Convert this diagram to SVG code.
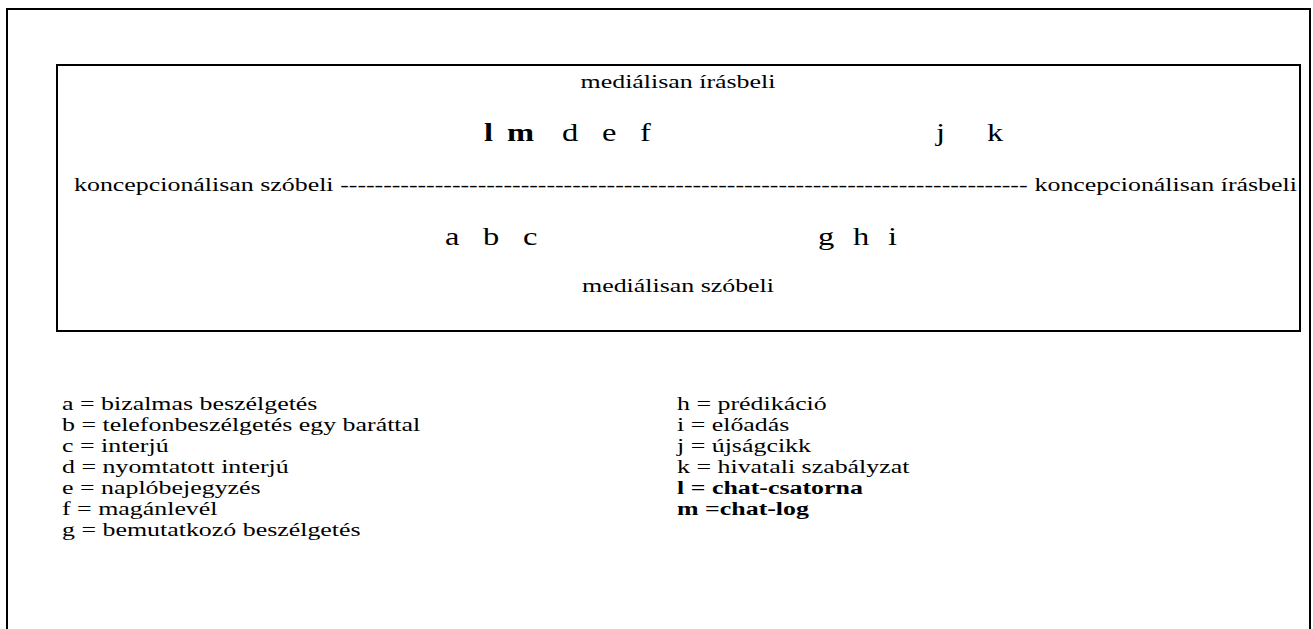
<svg xmlns="http://www.w3.org/2000/svg" width="1313" height="629" viewBox="0 0 1313 629">
  <style>
    text { font-family: "Liberation Serif", "Times New Roman", serif; fill: #000; }
    .lbl { font-size: 18.5px; }
    .ltr { font-size: 26px; }
    .leg { font-size: 18.5px; }
    .b { font-weight: bold; }
    .frame { fill: none; stroke: #000; stroke-width: 2; }
  </style>
  <rect width="1313" height="629" fill="#fff"/>

  <!-- outer frame, open at the bottom edge of the page -->
  <rect id="outer-frame" class="frame" x="7" y="9" width="1303" height="660"/>

  <!-- continuum chart: box with the medial poles -->
  <g id="chart">
    <rect class="frame" x="57" y="65" width="1243" height="266"/>
    <g transform="scale(1.4 1)">
      <text class="lbl" x="484.3" y="88" text-anchor="middle">mediálisan írásbeli</text>
      <text class="lbl" x="484.3" y="292" text-anchor="middle">mediálisan szóbeli</text>
    </g>
  </g>

  <!-- conceptional axis -->
  <g id="axis" transform="scale(1.4 1)">
    <text class="lbl" x="52.86" y="191">koncepcionálisan szóbeli</text>
    <text class="lbl" x="243" y="191" textLength="491" lengthAdjust="spacing">--------------------------------------------------------------------------------</text>
    <text class="lbl" x="926.4" y="191" text-anchor="end">koncepcionálisan írásbeli</text>
  </g>

  <!-- genre positions -->
  <g id="upper-row" transform="scale(1.25 1)">
    <text class="ltr b" x="387.2" y="141">l</text>
    <text class="ltr b" x="405.6" y="141">m</text>
    <text class="ltr" x="449.6" y="141">d</text>
    <text class="ltr" x="481.6" y="141">e</text>
    <text class="ltr" x="512" y="141">f</text>
    <text class="ltr" x="748.8" y="141">j</text>
    <text class="ltr" x="789.6" y="141">k</text>
  </g>
  <g id="lower-row" transform="scale(1.25 1)">
    <text class="ltr" x="356" y="245">a</text>
    <text class="ltr" x="386.4" y="245">b</text>
    <text class="ltr" x="418.4" y="245">c</text>
    <text class="ltr" x="654.4" y="245">g</text>
    <text class="ltr" x="682.4" y="245">h</text>
    <text class="ltr" x="710.4" y="245">i</text>
  </g>

  <!-- legend -->
  <g id="legend-left" transform="scale(1.4 1)">
    <text class="leg" x="44.29" y="410">a = bizalmas beszélgetés</text>
    <text class="leg" x="44.29" y="431">b = telefonbeszélgetés egy baráttal</text>
    <text class="leg" x="44.29" y="452">c = interjú</text>
    <text class="leg" x="44.29" y="473">d = nyomtatott interjú</text>
    <text class="leg" x="44.29" y="494">e = naplóbejegyzés</text>
    <text class="leg" x="44.29" y="515">f = magánlevél</text>
    <text class="leg" x="44.29" y="536">g = bemutatkozó beszélgetés</text>
  </g>
  <g id="legend-right" transform="scale(1.4 1)">
    <text class="leg" x="483.57" y="410">h = prédikáció</text>
    <text class="leg" x="483.57" y="431">i = előadás</text>
    <text class="leg" x="483.57" y="452">j = újságcikk</text>
    <text class="leg" x="483.57" y="473">k = hivatali szabályzat</text>
    <text class="leg b" x="483.57" y="494">l = chat-csatorna</text>
    <text class="leg b" x="483.57" y="515">m =chat-log</text>
  </g>
</svg>
